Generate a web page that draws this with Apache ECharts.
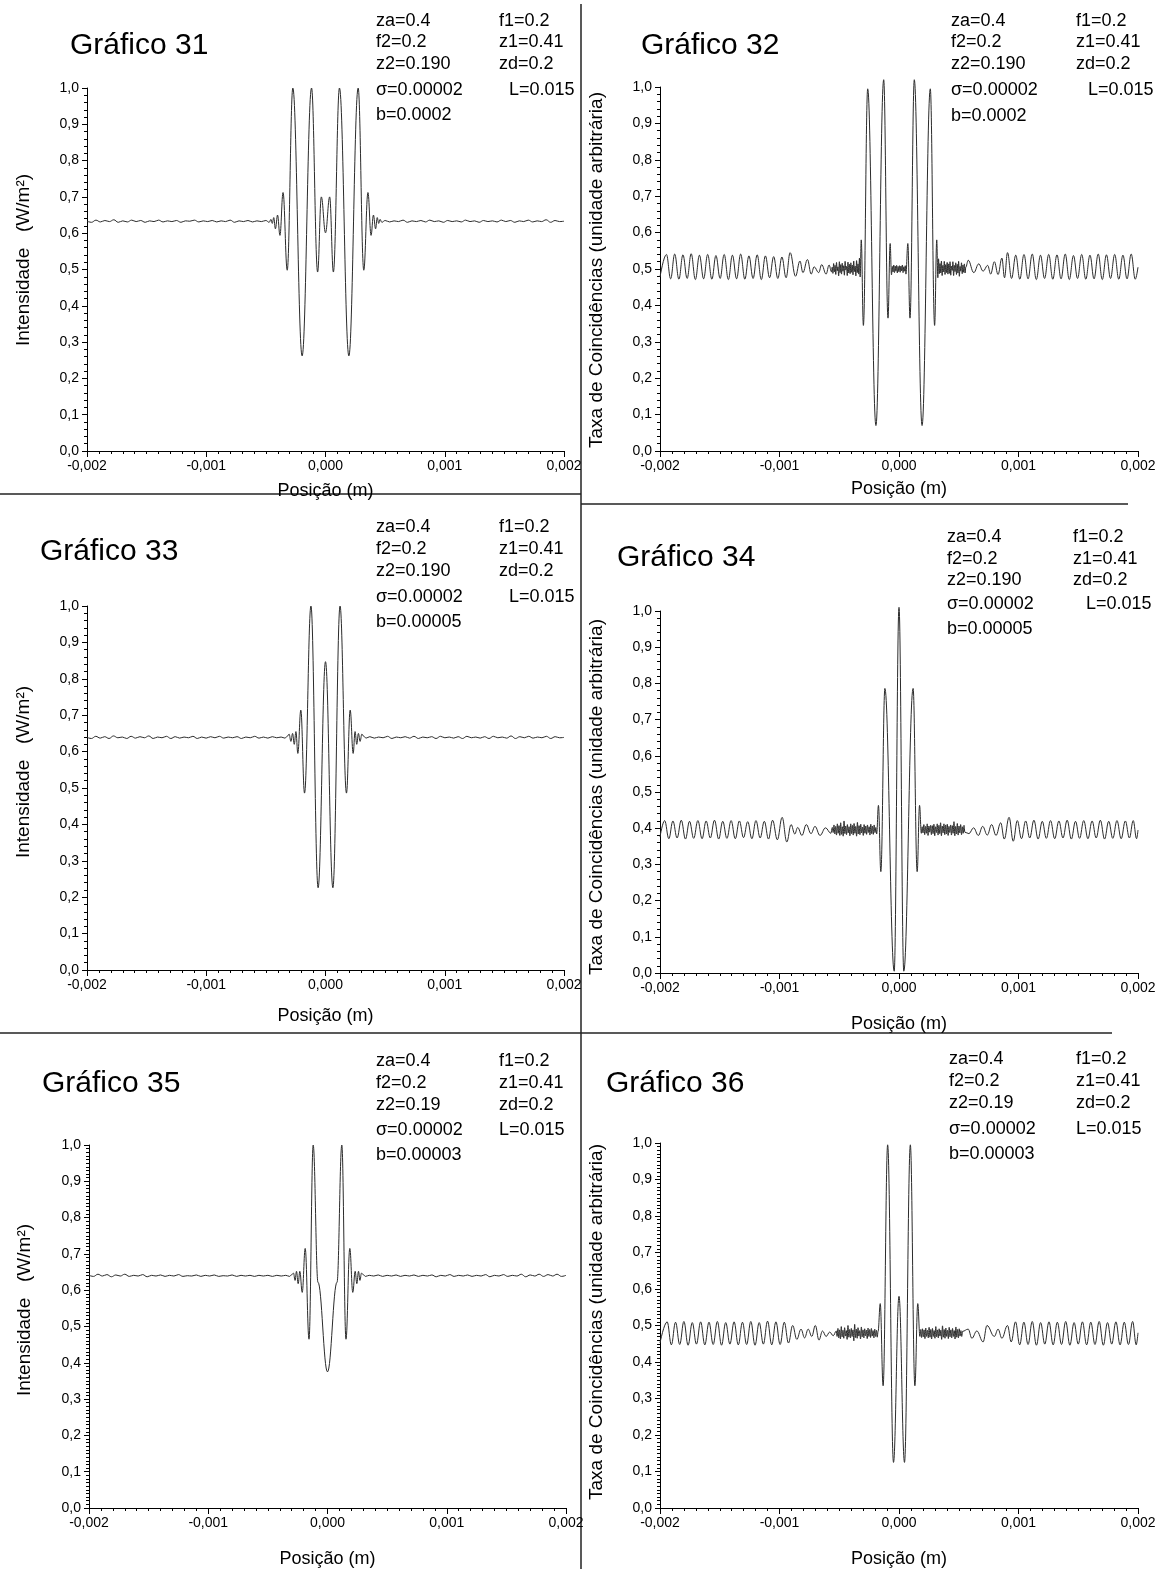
<!DOCTYPE html>
<html><head><meta charset="utf-8">
<script src="https://cdn.jsdelivr.net/npm/echarts@6/dist/echarts.min.js"></script>
<style>html,body{margin:0;padding:0;background:#fff}#c{width:1165px;height:1569px}</style>
</head><body><div id="c"></div>
<script>
// x values in micrometres (1e-6 m); axis labels show metres
const xTickLabels = ['-0,002','-0,001','0,000','0,001','0,002'];
const yTickLabels = ['0,0','0,1','0,2','0,3','0,4','0,5','0,6','0,7','0,8','0,9','1,0'];
const titles = ['Gráfico 31','Gráfico 32','Gráfico 33','Gráfico 34','Gráfico 35','Gráfico 36'];
const paramsLeft = [
 ['za=0.4','f2=0.2','z2=0.190','σ=0.00002','b=0.0002'],
 ['za=0.4','f2=0.2','z2=0.190','σ=0.00002','b=0.0002'],
 ['za=0.4','f2=0.2','z2=0.190','σ=0.00002','b=0.00005'],
 ['za=0.4','f2=0.2','z2=0.190','σ=0.00002','b=0.00005'],
 ['za=0.4','f2=0.2','z2=0.19','σ=0.00002','b=0.00003'],
 ['za=0.4','f2=0.2','z2=0.19','σ=0.00002','b=0.00003']];
const paramsRight = [
 ['f1=0.2','z1=0.41','zd=0.2','L=0.015'],['f1=0.2','z1=0.41','zd=0.2','L=0.015'],
 ['f1=0.2','z1=0.41','zd=0.2','L=0.015'],['f1=0.2','z1=0.41','zd=0.2','L=0.015'],
 ['f1=0.2','z1=0.41','zd=0.2','L=0.015'],['f1=0.2','z1=0.41','zd=0.2','L=0.015']];
const xName = 'Posição (m)';
const yNameI = 'Intensidade   (W/m²)';
const yNameT = 'Taxa de Coincidências (unidade arbitrária)';

const g31 = [[-2000,.633],[-1962,.630],[-1925,.636],[-1888,.631],[-1850,.635],[-1812,.632],[-1775,.637],[-1738,.630],[-1700,.634],[-1662,.631],[-1625,.636],[-1588,.632],[-1550,.635],[-1512,.630],[-1475,.634],[-1438,.632],[-1400,.636],[-1362,.631],[-1325,.634],[-1288,.632],[-1250,.635],[-1212,.630],[-1175,.634],[-1138,.633],[-1100,.636],[-1062,.631],[-1025,.634],[-988,.632],[-950,.635],[-912,.631],[-875,.634],[-838,.632],[-800,.636],[-762,.630],[-725,.634],[-688,.632],[-650,.635],[-612,.631],[-575,.634],[-538,.632],[-500,.635],
[-472,.630],[-458,.638],[-446,.627],[-434,.643],[-420,.612],[-402,.650],[-382,.594],[-356,.712],[-321,.498],[-274,1.0],[-196,.262],[-117,1.0],[-66,.493],[-35,.700],[0,.601],[35,.700],[66,.493],[117,1.0],[196,.262],[274,1.0],[321,.498],[356,.712],[382,.594],[402,.650],[420,.612],[434,.643],[446,.627],[458,.638],[472,.630],
[500,.635],[538,.631],[575,.634],[612,.632],[650,.636],[688,.630],[725,.634],[762,.632],[800,.635],[838,.631],[875,.636],[912,.632],[950,.634],[988,.630],[1025,.635],[1062,.632],[1100,.634],[1138,.631],[1175,.636],[1212,.632],[1250,.634],[1288,.630],[1325,.635],[1362,.632],[1400,.634],[1438,.631],[1475,.636],[1512,.632],[1550,.635],[1588,.630],[1625,.634],[1662,.632],[1700,.636],[1738,.631],[1775,.634],[1812,.632],[1850,.637],[1888,.630],[1925,.635],[1962,.632],[2000,.633]];

const g32 = [[-2000,.478],[-1946,.540],[-1911,.473],[-1877,.541],[-1842,.472],[-1808,.539],[-1773,.474],[-1739,.542],[-1704,.471],[-1670,.538],[-1635,.473],[-1601,.540],[-1566,.472],[-1532,.537],[-1497,.474],[-1463,.540],[-1428,.471],[-1394,.538],[-1359,.473],[-1325,.541],[-1290,.472],[-1256,.536],[-1221,.474],[-1187,.539],[-1152,.471],[-1118,.536],[-1083,.476],[-1049,.534],[-1014,.474],[-980,.533],[-945,.476],[-911,.545],
[-866,.480],[-829,.522],[-804,.490],[-766,.526],[-735,.486],[-710,.506],[-672,.490],[-647,.512],[-610,.486],[-585,.511],[-565,.492],
[-559,.505],[-553,.488],[-547,.515],[-541,.492],[-535,.510],[-529,.485],[-523,.518],[-517,.495],[-511,.506],[-505,.481],[-499,.520],[-493,.490],[-487,.512],[-481,.486],[-475,.516],[-469,.494],[-463,.509],[-457,.483],[-451,.521],[-445,.497],[-439,.507],[-433,.482],[-427,.519],[-421,.489],[-415,.513],[-409,.487],[-403,.517],[-397,.491],[-391,.511],[-385,.484],[-379,.522],[-373,.493],[-367,.508],[-361,.481],[-355,.523],[-349,.490],[-343,.514],[-337,.486],[-331,.530],[-325,.478],
[-316,.580],[-298,.345],[-262,.995],[-193,.070],[-128,1.020],[-92,.365],[-74,.570],[-63,.484],
[-56,.507],[-50,.492],[-44,.511],[-38,.490],[-32,.508],[-26,.494],[-20,.510],[-14,.489],[-8,.507],[-2,.493],[4,.509],[10,.491],[16,.508],[22,.495],[28,.511],[34,.490],[40,.506],[46,.494],[52,.509],[58,.486],
[74,.570],[92,.365],[128,1.020],[193,.070],[262,.995],[298,.345],[316,.580],
[325,.476],[331,.528],[337,.487],[343,.515],[349,.489],[355,.522],[361,.482],[367,.510],[373,.492],[379,.521],[385,.485],[391,.512],[397,.490],[403,.518],[409,.486],[415,.514],[421,.488],[427,.520],[433,.483],[439,.508],[445,.496],[451,.520],[457,.482],[463,.510],[469,.493],[475,.517],[481,.485],[487,.513],[493,.489],[499,.521],[505,.480],[511,.507],[517,.494],[523,.517],[529,.487],[535,.511],[541,.491],[547,.514],[553,.489],[559,.505],
[579,.524],[626,.490],[667,.514],[704,.494],[742,.510],[767,.486],[798,.520],[829,.485],[861,.530],[883,.476],[908,.545],
[942,.474],[977,.538],[1011,.472],[1046,.540],[1080,.473],[1115,.541],[1149,.471],[1184,.538],[1218,.474],[1253,.540],[1287,.472],[1322,.539],[1356,.473],[1391,.541],[1425,.471],[1460,.537],[1494,.474],[1529,.540],[1563,.472],[1598,.538],[1632,.473],[1667,.541],[1701,.471],[1736,.539],[1770,.474],[1805,.540],[1839,.472],[1874,.538],[1908,.473],[1943,.541],[1977,.472],[2000,.505]];

const g33 = [[-2000,.639],[-1963,.636],[-1926,.642],[-1889,.637],[-1852,.641],[-1815,.636],[-1778,.643],[-1741,.638],[-1704,.640],[-1667,.636],[-1630,.642],[-1593,.637],[-1556,.641],[-1519,.638],[-1482,.643],[-1445,.636],[-1408,.640],[-1371,.638],[-1334,.642],[-1297,.636],[-1260,.641],[-1223,.637],[-1186,.640],[-1149,.638],[-1112,.642],[-1075,.636],[-1038,.640],[-1001,.637],[-964,.641],[-927,.638],[-890,.642],[-853,.637],[-816,.640],[-779,.638],[-742,.641],[-705,.636],[-668,.640],[-631,.638],[-594,.642],[-557,.637],[-520,.640],[-483,.637],[-446,.641],[-409,.638],[-372,.640],[-340,.637],
[-321,.642],[-305,.648],[-290,.628],[-276,.650],[-262,.620],[-248,.655],[-232,.595],[-207,.714],[-176,.486],[-122,1.0],[-62,.226],[0,.847],[62,.226],[122,1.0],[176,.486],[207,.714],[232,.595],[248,.655],[262,.620],[276,.650],[290,.628],[305,.648],[321,.642],
[340,.637],[372,.641],[409,.637],[446,.640],[483,.638],[520,.642],[557,.636],[594,.640],[631,.638],[668,.641],[705,.637],[742,.642],[779,.636],[816,.640],[853,.638],[890,.641],[927,.636],[964,.642],[1001,.638],[1038,.640],[1075,.637],[1112,.641],[1149,.636],[1186,.642],[1223,.638],[1260,.640],[1297,.637],[1334,.641],[1371,.636],[1408,.642],[1445,.638],[1482,.640],[1519,.637],[1556,.643],[1593,.636],[1630,.641],[1667,.638],[1704,.642],[1741,.637],[1778,.640],[1815,.638],[1852,.642],[1889,.636],[1926,.641],[1963,.638],[2000,.639]];

const g34 = [[-2000,.376],[-1961,.421],[-1926,.371],[-1892,.420],[-1857,.373],[-1822,.422],[-1787,.370],[-1753,.419],[-1718,.372],[-1683,.421],[-1648,.371],[-1614,.420],[-1579,.373],[-1544,.422],[-1509,.370],[-1475,.419],[-1440,.372],[-1405,.421],[-1370,.371],[-1336,.420],[-1301,.374],[-1266,.418],[-1231,.371],[-1197,.421],[-1162,.373],[-1127,.419],[-1092,.370],[-1058,.422],[-1018,.368],[-978,.430],[-939,.362],
[-903,.410],[-872,.384],[-848,.402],[-812,.380],[-776,.410],[-736,.385],[-703,.405],[-661,.380],[-615,.401],[-570,.386],
[-558,.402],[-551,.388],[-544,.409],[-537,.384],[-530,.405],[-523,.381],[-516,.412],[-509,.386],[-502,.407],[-495,.380],[-488,.415],[-481,.383],[-474,.404],[-467,.378],[-460,.420],[-453,.385],[-446,.406],[-439,.382],[-432,.410],[-425,.387],[-418,.404],[-411,.379],[-404,.412],[-397,.385],[-390,.408],[-383,.381],[-376,.413],[-369,.386],[-362,.405],[-355,.378],[-348,.416],[-341,.384],[-334,.407],[-327,.382],[-320,.411],[-313,.387],[-306,.403],[-299,.380],[-292,.410],[-285,.386],[-278,.406],[-271,.383],[-264,.409],[-257,.388],[-250,.404],[-243,.381],[-236,.411],[-229,.385],[-222,.406],[-215,.383],[-208,.409],[-201,.388],[-194,.402],[-187,.384],
[-172,.463],[-152,.280],[-118,.786],[-40,.005],[0,1.010],[40,.005],[118,.786],[152,.280],[172,.463],
[187,.386],[194,.404],[201,.387],[208,.410],[215,.382],[222,.405],[229,.386],[236,.412],[243,.380],[250,.406],[257,.389],[264,.408],[271,.382],[278,.407],[285,.385],[292,.411],[299,.379],[306,.404],[313,.388],[320,.412],[327,.381],[334,.408],[341,.385],[348,.415],[355,.379],[362,.406],[369,.387],[376,.412],[383,.382],[390,.409],[397,.384],[404,.411],[411,.380],[418,.405],[425,.388],[432,.409],[439,.381],[446,.407],[453,.386],[460,.418],[467,.379],[474,.405],[481,.384],[488,.413],[495,.381],[502,.406],[509,.387],[516,.410],[523,.382],[530,.404],[537,.386],[544,.408],[551,.389],
[585,.385],[624,.401],[664,.380],[700,.405],[739,.381],[775,.410],[812,.380],[851,.415],[881,.370],[921,.430],[956,.364],
[990,.421],[1025,.371],[1060,.420],[1094,.373],[1129,.422],[1164,.370],[1199,.419],[1233,.372],[1268,.421],[1303,.371],[1338,.420],[1372,.373],[1407,.422],[1442,.370],[1477,.419],[1511,.372],[1546,.421],[1581,.371],[1616,.420],[1650,.373],[1685,.422],[1720,.370],[1755,.419],[1789,.372],[1824,.421],[1859,.371],[1894,.420],[1928,.373],[1960,.421],[1988,.371],[2000,.395]];

const g35 = [[-2000,.641],[-1962,.638],[-1925,.644],[-1888,.639],[-1850,.643],[-1812,.637],[-1775,.642],[-1738,.639],[-1700,.644],[-1662,.638],[-1625,.641],[-1588,.639],[-1550,.643],[-1512,.637],[-1475,.641],[-1438,.639],[-1400,.642],[-1362,.638],[-1325,.641],[-1288,.639],[-1250,.643],[-1212,.638],[-1175,.640],[-1138,.639],[-1100,.642],[-1062,.638],[-1025,.641],[-988,.639],[-950,.642],[-912,.638],[-875,.640],[-838,.639],[-800,.642],[-762,.638],[-725,.641],[-688,.639],[-650,.641],[-612,.638],[-575,.641],[-538,.639],[-500,.641],[-462,.638],[-425,.641],[-388,.639],[-350,.641],[-318,.638],
[-300,.643],[-285,.647],[-272,.627],[-260,.652],[-246,.618],[-232,.652],[-212,.594],[-187,.715],[-155,.465],[-120,1.0],[-80,.622],[0,.375],[80,.622],[120,1.0],[155,.465],[187,.715],[212,.594],[232,.652],[246,.618],[260,.652],[272,.627],[285,.647],[300,.643],
[318,.638],[350,.641],[388,.639],[425,.642],[462,.638],[500,.641],[538,.639],[575,.642],[612,.638],[650,.641],[688,.639],[725,.642],[762,.638],[800,.641],[838,.639],[875,.642],[912,.637],[950,.641],[988,.639],[1025,.643],[1062,.638],[1100,.641],[1138,.639],[1175,.642],[1212,.638],[1250,.641],[1288,.639],[1325,.643],[1362,.637],[1400,.641],[1438,.639],[1475,.643],[1512,.638],[1550,.641],[1588,.639],[1625,.644],[1662,.637],[1700,.642],[1738,.639],[1775,.644],[1812,.638],[1850,.643],[1888,.639],[1925,.644],[1962,.638],[2000,.641]];

const g36 = [[-2000,.452],[-1940,.510],[-1905,.447],[-1870,.509],[-1835,.448],[-1800,.511],[-1765,.446],[-1730,.508],[-1695,.449],[-1660,.510],[-1625,.447],[-1590,.509],[-1555,.448],[-1520,.511],[-1485,.446],[-1450,.508],[-1415,.449],[-1380,.510],[-1345,.447],[-1310,.509],[-1275,.448],[-1240,.511],[-1205,.446],[-1170,.508],[-1135,.449],[-1100,.512],[-1065,.447],[-1030,.510],[-995,.448],[-960,.509],[-925,.452],
[-890,.500],[-855,.462],[-820,.490],[-790,.466],[-760,.490],[-730,.470],[-700,.500],[-670,.460],[-640,.485],[-610,.470],[-580,.482],[-550,.472],
[-525,.485],[-518,.470],[-511,.492],[-504,.466],[-497,.488],[-490,.463],[-483,.497],[-476,.469],[-469,.487],[-462,.465],[-455,.494],[-448,.471],[-441,.486],[-434,.462],[-427,.500],[-420,.468],[-413,.489],[-406,.466],[-399,.492],[-392,.470],[-385,.488],[-378,.458],[-371,.503],[-364,.467],[-357,.490],[-350,.465],[-343,.494],[-336,.471],[-329,.486],[-322,.463],[-315,.496],[-308,.469],[-301,.488],[-294,.466],[-287,.491],[-280,.472],[-273,.487],[-266,.464],[-259,.493],[-252,.470],[-245,.489],[-238,.467],[-231,.492],[-224,.471],[-217,.486],[-210,.466],[-203,.490],[-196,.470],[-189,.487],[-182,.468],[-175,.484],
[-157,.560],[-133,.335],[-95,.995],[-46,.125],[0,.580],[46,.125],[95,.995],[133,.335],[157,.560],
[175,.470],[182,.489],[189,.467],[196,.491],[203,.469],[210,.488],[217,.464],[224,.493],[231,.470],[238,.487],[245,.466],[252,.495],[259,.468],[266,.489],[273,.463],[280,.492],[287,.470],[294,.486],[301,.465],[308,.497],[315,.469],[322,.488],[329,.466],[336,.491],[343,.471],[350,.487],[357,.462],[364,.499],[371,.468],[378,.489],[385,.465],[392,.493],[399,.470],[406,.487],[413,.464],[420,.495],[427,.469],[434,.488],[441,.466],[448,.492],[455,.470],[462,.486],[469,.463],[476,.496],[483,.468],[490,.489],[497,.466],[504,.491],[511,.471],[518,.486],[525,.470],[532,.484],
[579,.490],[610,.465],[651,.485],[704,.455],[736,.500],[798,.470],[829,.490],[861,.465],[908,.500],[939,.455],
[975,.510],[1010,.447],[1045,.509],[1080,.448],[1115,.511],[1150,.446],[1185,.508],[1220,.449],[1255,.510],[1290,.447],[1325,.509],[1360,.448],[1395,.511],[1430,.446],[1465,.508],[1500,.449],[1535,.510],[1570,.447],[1605,.509],[1640,.448],[1675,.511],[1710,.446],[1745,.508],[1780,.449],[1815,.510],[1850,.447],[1885,.509],[1920,.448],[1955,.511],[1985,.447],[2000,.480]];

const seriesData = [g31,g32,g33,g34,g35,g36];

// ---- layout / style ----
const FONT = '"Liberation Sans", Arial, sans-serif';
const grids = [
 {left:87, top:88, width:477, height:363},
 {left:660, top:87, width:478, height:364},
 {left:87, top:606, width:477, height:364},
 {left:660, top:611, width:478, height:362},
 {left:89, top:1145, width:477, height:363},
 {left:660, top:1143, width:478, height:365}];
const xNameGap = [31,29,37,42,42,42];
const yMinorSplit = [5,5,5,5,10,10];
const titlePos = [[70,46],[641,46],[40,552],[617,558],[42,1084],[606,1084]];
const leftColX = [376,951,376,947,376,949];
const rightColX = [499,1076,499,1073,499,1076];
const LX = [509,1088,509,1086,499,1076];
const rowY = [[21,42,64,90,115],[21,42,64,90,116],[527,549,571,597,622],[537,559,580,604,629],[1061,1083,1105,1130,1155],[1059,1081,1103,1129,1154]];
const yNamePos = [[24,260],[597,270],[24,772],[597,797],[25,1310],[597,1322]];

const chart = echarts.init(document.getElementById('c'), null, {renderer:'canvas'});
const black = '#000';
const xAxes = [], yAxes = [], series = [];
grids.forEach((g,i)=>{
  xAxes.push({type:'value', gridIndex:i, min:-2000, max:2000, interval:1000,
    axisLine:{show:true, onZero:false, lineStyle:{color:black,width:1}},
    axisTick:{show:true, inside:false, length:6, lineStyle:{color:black,width:1}},
    minorTick:{show:true, splitNumber:10, length:3, lineStyle:{color:black,width:1}},
    splitLine:{show:false}, minorSplitLine:{show:false},
    axisLabel:{color:black, fontSize:14, fontFamily:FONT, margin:8,
      formatter:v=>xTickLabels[Math.round((v+2000)/1000)]},
    name:xName, nameLocation:'middle', nameGap:xNameGap[i],
    nameTextStyle:{color:black, fontSize:18, fontFamily:FONT}});
  yAxes.push({type:'value', gridIndex:i, min:0, max:1, interval:0.1,
    axisLine:{show:true, onZero:false, lineStyle:{color:black,width:1}},
    axisTick:{show:true, inside:false, length:5, lineStyle:{color:black,width:1}},
    minorTick:{show:true, splitNumber:yMinorSplit[i], length:3, lineStyle:{color:black,width:1}},
    splitLine:{show:false}, minorSplitLine:{show:false},
    axisLabel:{color:black, fontSize:14, fontFamily:FONT, margin:8,
      formatter:v=>yTickLabels[Math.round(v*10)]}});
  series.push({type:'line', xAxisIndex:i, yAxisIndex:i, data:seriesData[i],
    showSymbol:false, symbol:'none', smooth:0.4, smoothMonotone:'x', clip:false,
    lineStyle:{color:'#2b2b2b', width:1}, silent:true, animation:false});
});

const graphics = [];
const txt = (x,y,text,size,opts={}) => graphics.push(Object.assign({type:'text', x, y, silent:true,
  style:{text, fill:black, font:size+'px '+FONT, fontSize:size, fontFamily:FONT,
    align:opts.align||'left', textAlign:opts.align||'left', verticalAlign:'middle', textVerticalAlign:'middle'}}, opts.rot?{rotation:opts.rot}:{}));
for (let i=0;i<6;i++){
  txt(titlePos[i][0], titlePos[i][1], titles[i], 30);
  for (let r=0;r<5;r++) txt(leftColX[i], rowY[i][r], paramsLeft[i][r], 18);
  for (let r=0;r<3;r++) txt(rightColX[i], rowY[i][r], paramsRight[i][r], 18);
  txt(LX[i], rowY[i][3], paramsRight[i][3], 18);
  txt(yNamePos[i][0], yNamePos[i][1], (i%2===0)?yNameI:yNameT, 19, {align:'center', rot:Math.PI/2});
}
const ln = (x1,y1,x2,y2) => graphics.push({type:'line', silent:true, shape:{x1,y1,x2,y2}, style:{stroke:'#222', lineWidth:1.5}});
ln(581,4,581,1569);
ln(0,494,581,494);
ln(581,504,1128,504);
ln(0,1033,581,1033);
ln(581,1033,1112,1033);

chart.setOption({
  animation:false, backgroundColor:'#fff',
  grid: grids.map(g=>Object.assign({containLabel:false, outerBoundsMode:'none'}, g)),
  xAxis:xAxes, yAxis:yAxes, series, graphic:{elements:graphics}
});
</script></body></html>
